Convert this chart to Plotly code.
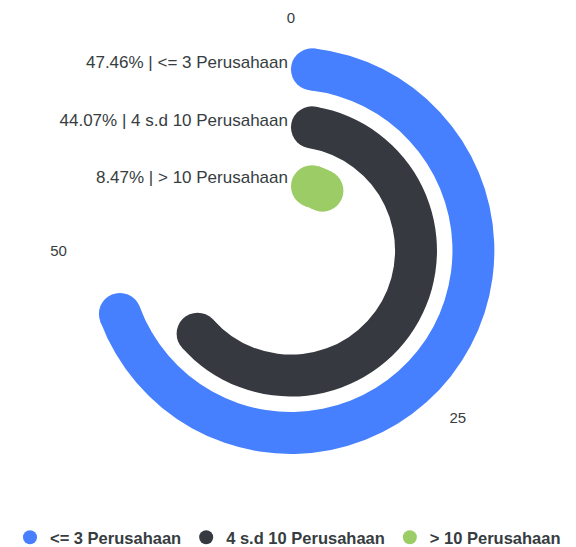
import math

from plotly import graph_objects as go

# Data
categories = ["<= 3 Perusahaan", "4 s.d 10 Perusahaan", "> 10 Perusahaan"]
percentages = [47.46, 44.07, 8.47]
colors = ["#4680ff", "#363a40", "#9ccc65"]
angle_ticks = [0, 25, 50]
ANGLE_MAX = 200 / 3  # value that maps to a full turn

TEXT_COLOR = "#373d3f"
FONT = "Liberation Sans, Arial, sans-serif"

# Geometry (polar radial units == pixels)
# the page body adds an 8px margin, so figure coords = page coords - 8
W, H = 576, 547
PAGE_PAD = 8
CX, CY = 291 - PAGE_PAD, 251 - PAGE_PAD
R_OUTER = 224
BAND = 57.5
BAND_OFFSET = 39
THICKNESS = 42
LABEL_SHIFT = 5.5


def to_deg(value):
    return value * 360 / ANGLE_MAX


def ring_mid(i):
    # outermost ring is the first category
    k = len(categories) - 1 - i
    return BAND_OFFSET + BAND * (k + 0.5)


fig = go.Figure()

for i, (name, pct, color) in enumerate(zip(categories, percentages, colors)):
    mid = ring_mid(i)
    half = THICKNESS / 2
    # rounded ends stay inside the angular span of the value
    cap = math.degrees(math.asin(half / mid))
    start = cap
    end = to_deg(pct) - cap
    fig.add_trace(
        go.Barpolar(
            r=[THICKNESS],
            base=[mid - half],
            theta=[(start + end) / 2],
            width=[end - start],
            marker=dict(color=color, line=dict(width=0)),
            showlegend=False,
            hoverinfo="skip",
        )
    )
    fig.add_trace(
        go.Scatterpolar(
            r=[mid, mid],
            theta=[start, end],
            mode="markers",
            marker=dict(color=color, size=THICKNESS, line=dict(width=0)),
            showlegend=False,
            hoverinfo="skip",
        )
    )

# legend entries
for name, color in zip(categories, colors):
    fig.add_trace(
        go.Scatterpolar(
            r=[None],
            theta=[None],
            mode="markers",
            name=name,
            marker=dict(color=color, size=14, symbol="circle"),
        )
    )

tick_r = [ring_mid(i) + LABEL_SHIFT for i in range(len(categories))]
tick_text = [f"{p:.2f}% | {c}" for p, c in zip(percentages, categories)]

fig.update_layout(
    template="none",
    width=W,
    height=H,
    margin=dict(l=0, r=0, t=0, b=0),
    paper_bgcolor="white",
    plot_bgcolor="white",
    font=dict(family=FONT, color=TEXT_COLOR, size=15),
    polar=dict(
        domain=dict(
            x=[(CX - R_OUTER) / W, (CX + R_OUTER) / W],
            y=[(H - CY - R_OUTER) / H, (H - CY + R_OUTER) / H],
        ),
        bgcolor="rgba(0,0,0,0)",
        barmode="overlay",
        angularaxis=dict(
            rotation=90,
            direction="clockwise",
            tickmode="array",
            tickvals=[to_deg(v) for v in angle_ticks],
            ticktext=[str(v) for v in angle_ticks],
            showgrid=False,
            showline=False,
            ticks="",
            tickfont=dict(size=15, color=TEXT_COLOR),
        ),
        radialaxis=dict(
            range=[0, R_OUTER],
            angle=90,
            side="counterclockwise",
            tickangle=90,
            tickmode="array",
            tickvals=tick_r,
            ticktext=tick_text,
            showgrid=False,
            showline=False,
            ticks="",
            tickfont=dict(size=17, color=TEXT_COLOR),
        ),
    ),
    legend=dict(
        orientation="h",
        x=(288 - PAGE_PAD) / W,
        xanchor="center",
        y=(H - (538 - PAGE_PAD)) / H,
        yanchor="middle",
        itemsizing="trace",
        font=dict(size=16.5, color=TEXT_COLOR, weight="bold"),
    ),
)

fig.write_html("out.html")
